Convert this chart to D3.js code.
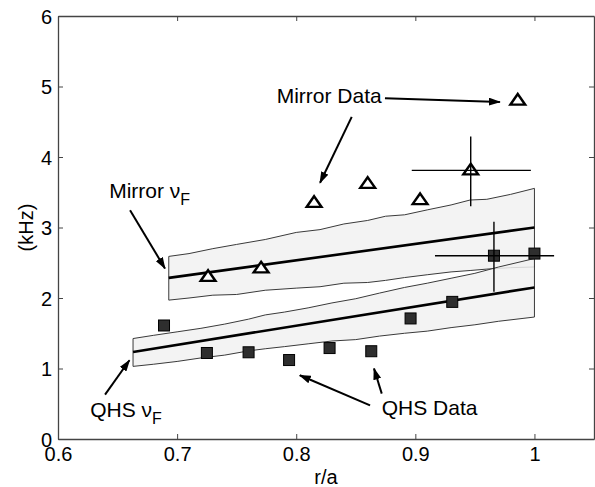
<!DOCTYPE html>
<html>
<head>
<meta charset="utf-8">
<script src="https://cdn.jsdelivr.net/npm/d3@7"></script>
<style>
  body { margin: 0; background: #fff; }
  svg text { font-family: "Liberation Sans", Arial, Helvetica, sans-serif; fill: #000; }
</style>
</head>
<body>
<svg id="chart" width="595" height="487"></svg>
<script>
// ---- data ----
const xTicks = [0.6, 0.7, 0.8, 0.9, 1];
const yTicks = [0, 1, 2, 3, 4, 5, 6];

// mirror measured frequencies (triangles)
const mirrorR = [0.726, 0.7705, 0.815, 0.86, 0.904, 0.9465, 0.986];
const mirrorF = [2.30, 2.42, 3.35, 3.62, 3.39, 3.81, 4.80];
// QHS measured frequencies (squares)
const qhsR = [0.689, 0.725, 0.760, 0.794, 0.828, 0.863, 0.896, 0.931, 0.966, 1.0];
const qhsF = [1.61, 1.22, 1.23, 1.12, 1.29, 1.245, 1.71, 1.945, 2.60, 2.63];

// representative error bars [r, f, rLo, rHi, fLo, fHi]
const errorBars = [
  [0.9465, 3.81, 0.897, 0.997, 3.30, 4.29],
  [0.966, 2.60, 0.9165, 1.0165, 2.09, 3.08]
];

// predicted nu_F bands
const mirrorBandR = [0.693, 0.71, 0.73, 0.75, 0.774, 0.80, 0.82, 0.84, 0.86, 0.875, 0.891, 0.91, 0.93, 0.946, 0.96, 0.98, 1.0];
const mirrorUpper = [2.59, 2.63, 2.70, 2.76, 2.83, 2.93, 2.97, 3.05, 3.10, 3.16, 3.18, 3.25, 3.32, 3.39, 3.40, 3.47, 3.555];
const mirrorLower = [1.97, 2.00, 2.04, 2.05, 2.11, 2.14, 2.16, 2.21, 2.22, 2.25, 2.29, 2.33, 2.37, 2.39, 2.41, 2.43, 2.44];
const mirrorCenterR = [0.693, 1.0];
const mirrorCenter = [2.285, 3.0];

const qhsBandR = [0.663, 0.68, 0.70, 0.72, 0.74, 0.76, 0.774, 0.79, 0.81, 0.83, 0.85, 0.87, 0.891, 0.91, 0.93, 0.95, 0.97, 1.0];
const qhsUpper = [1.425, 1.47, 1.52, 1.57, 1.63, 1.70, 1.76, 1.80, 1.86, 1.93, 1.99, 2.07, 2.15, 2.21, 2.28, 2.35, 2.44, 2.56];
const qhsLower = [1.03, 1.06, 1.10, 1.15, 1.19, 1.25, 1.28, 1.31, 1.35, 1.39, 1.41, 1.46, 1.50, 1.53, 1.58, 1.62, 1.67, 1.73];
const qhsCenterR = [0.663, 1.0];
const qhsCenter = [1.235, 2.15];

// annotations: text + arrows in data units
const labels = [
  { text: "Mirror Data", r: 0.7836, f: 4.76 },
  { text: "Mirror ", sub: "F", r: 0.643, f: 3.42 },
  { text: "QHS ", sub: "F", r: 0.627, f: 0.313 },
  { text: "QHS Data", r: 0.8718, f: 0.336 }
];
const arrows = [
  [0.8745, 4.835, 0.971, 4.78],
  [0.8466, 4.57, 0.82, 3.634],
  [0.6605, 3.245, 0.6898, 2.42],
  [0.6395, 0.63, 0.66, 1.117],
  [0.862, 0.478, 0.803, 0.904],
  [0.8718, 0.644, 0.8653, 0.999]
];

// ---- layout ----
const width = 595, height = 487;
const margin = { left: 58, right: 1, top: 16, bottom: 48 };

const x = d3.scaleLinear().domain([0.6, 1.05]).range([margin.left, width - margin.right]);
const y = d3.scaleLinear().domain([0, 6]).range([height - margin.bottom, margin.top]);

const svg = d3.select("#chart");

// arrow head
svg.append("defs").append("marker")
  .attr("id", "head")
  .attr("viewBox", "0 0 12 8")
  .attr("refX", 11).attr("refY", 4)
  .attr("markerWidth", 12).attr("markerHeight", 8)
  .attr("markerUnits", "userSpaceOnUse")
  .attr("orient", "auto")
  .append("path").attr("d", "M0,0 L12,4 L0,8 Z").attr("fill", "#000");

// bands
const bandPath = (rs, up, lo) => {
  const pts = rs.map((r, i) => [x(r), y(up[i])])
    .concat(rs.map((r, i) => [x(r), y(lo[i])]).reverse());
  return d3.line()(pts) + "Z";
};
[[mirrorBandR, mirrorUpper, mirrorLower], [qhsBandR, qhsUpper, qhsLower]].forEach(b => {
  svg.append("path")
    .attr("d", bandPath(b[0], b[1], b[2]))
    .attr("fill", "#f1f1f1")
    .attr("fill-opacity", 0.85)
    .attr("stroke", "#3a3a3a")
    .attr("stroke-width", 1);
});

const centerLine = d3.line().x(d => x(d[0])).y(d => y(d[1]));
[[mirrorCenterR, mirrorCenter], [qhsCenterR, qhsCenter]].forEach(c => {
  svg.append("path")
    .attr("d", centerLine(c[0].map((r, i) => [r, c[1][i]])))
    .attr("fill", "none")
    .attr("stroke", "#000")
    .attr("stroke-width", 2.6);
});

// QHS squares
svg.selectAll(".qhs").data(qhsR.map((r, i) => [r, qhsF[i]]))
  .enter().append("rect")
  .attr("class", "qhs")
  .attr("x", d => x(d[0]) - 5.5)
  .attr("y", d => y(d[1]) - 5.5)
  .attr("width", 11).attr("height", 11)
  .attr("fill", "#2e2e2e")
  .attr("stroke", "#000")
  .attr("stroke-width", 1);

// mirror triangles
const tri = d3.symbol().type(d3.symbolTriangle).size(72);
svg.selectAll(".mirror").data(mirrorR.map((r, i) => [r, mirrorF[i]]))
  .enter().append("path")
  .attr("class", "mirror")
  .attr("d", tri)
  .attr("transform", d => "translate(" + x(d[0]) + "," + (y(d[1]) + 0.5) + ") scale(1.15,0.95)")
  .attr("fill", "#fff")
  .attr("stroke", "#000")
  .attr("stroke-width", 2.3);

// error bars
errorBars.forEach(e => {
  svg.append("line")
    .attr("x1", x(e[2])).attr("x2", x(e[3]))
    .attr("y1", y(e[1])).attr("y2", y(e[1]))
    .attr("stroke", "#000").attr("stroke-width", 1.4);
  svg.append("line")
    .attr("x1", x(e[0])).attr("x2", x(e[0]))
    .attr("y1", y(e[4])).attr("y2", y(e[5]))
    .attr("stroke", "#000").attr("stroke-width", 1.4);
});

// axes (box with inward ticks)
const axisColor = "#444";
const fmt = d => d3.format("")(d);
const gx = svg.append("g")
  .attr("transform", "translate(0," + y(0) + ")")
  .call(d3.axisBottom(x).tickValues(xTicks).tickSizeInner(-5).tickSizeOuter(0).tickPadding(10).tickFormat(fmt));
const gy = svg.append("g")
  .attr("transform", "translate(" + x(0.6) + ",0)")
  .call(d3.axisLeft(y).tickValues(yTicks).tickSizeInner(-5).tickSizeOuter(0).tickPadding(6).tickFormat(fmt));
const gt = svg.append("g")
  .attr("transform", "translate(0," + y(6) + ")")
  .call(d3.axisTop(x).tickValues(xTicks).tickSizeInner(-5).tickSizeOuter(0).tickFormat(""));
const gr = svg.append("g")
  .attr("transform", "translate(" + x(1.05) + ",0)")
  .call(d3.axisRight(y).tickValues(yTicks).tickSizeInner(-5).tickSizeOuter(0).tickFormat(""));

[gx, gy, gt, gr].forEach(g => {
  g.select(".domain").attr("stroke", axisColor).attr("stroke-width", 1.3);
  g.selectAll(".tick line").attr("stroke", axisColor);
  g.selectAll(".tick text").attr("font-size", 20).attr("fill", "#000")
    .style("font-family", '"Liberation Sans", Arial, sans-serif');
});
gx.selectAll(".tick text").attr("dy", "0.62em");
gy.selectAll(".tick text").attr("dy", "0.36em");

// axis titles
svg.append("text")
  .attr("x", x(0.825)).attr("y", 484)
  .attr("text-anchor", "middle")
  .attr("font-size", 20)
  .text("r/a");
svg.append("text")
  .attr("transform", "translate(33," + y(3) + ") rotate(-90)")
  .attr("text-anchor", "middle")
  .attr("font-size", 20)
  .text("(kHz)");

// annotation arrows
arrows.forEach(a => {
  svg.append("line")
    .attr("x1", x(a[0])).attr("y1", y(a[1]))
    .attr("x2", x(a[2])).attr("y2", y(a[3]))
    .attr("stroke", "#000").attr("stroke-width", 2)
    .attr("marker-end", "url(#head)");
});

// annotation labels
labels.forEach(l => {
  const t = svg.append("text")
    .attr("x", x(l.r)).attr("y", y(l.f))
    .attr("font-size", 21)
    .text(l.text);
  if (l.sub) {
    t.append("tspan").text("\u03BD");
    t.append("tspan").attr("font-size", 16).attr("dy", 7).text(l.sub);
  }
});
</script>
</body>
</html>
